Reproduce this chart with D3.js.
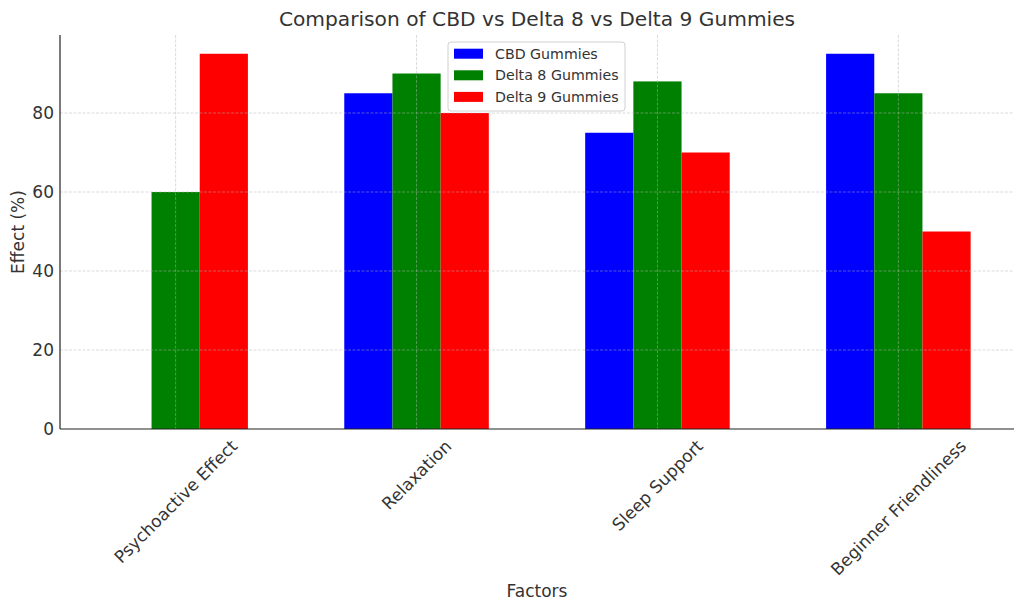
<!DOCTYPE html>
<html><head><meta charset="utf-8">
<script src="https://cdn.jsdelivr.net/npm/d3@7"></script>
<style>body{margin:0;background:#fff}text{font-family:"DejaVu Sans",sans-serif;fill:#333}</style>
</head><body>
<svg id="c" width="1024" height="611"></svg>
<script>
const categories = ["Psychoactive Effect","Relaxation","Sleep Support","Beginner Friendliness"];
const seriesNames = ["CBD Gummies","Delta 8 Gummies","Delta 9 Gummies"];
const cbdValues = [0, 85, 75, 95];
const delta8Values = [60, 90, 88, 85];
const delta9Values = [95, 80, 70, 50];
const yTicks = [0, 20, 40, 60, 80];
const colors = ["#0000ff","#008000","#ff0000"];
const series = [cbdValues, delta8Values, delta9Values];

const svg = d3.select("#c");
const L = 60, R = 1014, T = 35, B = 429;
const barW = 0.2;
const FS = 17;
const x = d3.scaleLinear().domain([-0.48, 3.48]).range([L, R]);
const y = d3.scaleLinear().domain([0, 99.75]).range([B, T]);

// bars
series.forEach((vals, s) => {
  svg.append("g").selectAll("rect").data(vals).join("rect")
    .attr("x", (d, i) => x(i + (s - 1) * barW - barW / 2))
    .attr("width", x(barW) - x(0))
    .attr("y", d => y(d))
    .attr("height", d => y(0) - y(d))
    .attr("fill", colors[s]);
});

// grid
const grid = svg.append("g").attr("stroke", "#b0b0b0").attr("stroke-opacity", 0.6)
  .attr("stroke-width", 0.8).attr("stroke-dasharray", "3,1.5");
yTicks.filter(t => t > 0).forEach(t => grid.append("line").attr("x1", L).attr("x2", R).attr("y1", y(t)).attr("y2", y(t)));
categories.forEach((c, i) => grid.append("line").attr("x1", x(i)).attr("x2", x(i)).attr("y1", T).attr("y2", B));

// axes via d3
const yAxis = svg.append("g").attr("transform", `translate(${L},0)`)
  .call(d3.axisLeft(y).tickValues(yTicks).tickSize(0).tickPadding(6));
yAxis.select(".domain").remove();
yAxis.selectAll("text").attr("font-size", FS).attr("fill", "#333").attr("font-family", "DejaVu Sans");

svg.append("line").attr("x1", L).attr("x2", L).attr("y1", T).attr("y2", B).attr("stroke", "#222").attr("stroke-width", 1.2);
svg.append("line").attr("x1", L).attr("x2", R).attr("y1", B).attr("y2", B).attr("stroke", "#222").attr("stroke-width", 1.2);

// x tick labels rotated 45
const xl = svg.append("g");
categories.forEach((c, i) => {
  const t = xl.append("text").text(c).attr("font-size", FS).attr("text-anchor", "middle")
    .attr("dominant-baseline", "central");
  const len = t.node().getComputedTextLength();
  const h = FS * 1.17;
  const cy = 436 + (len + h) / (2 * Math.SQRT2);
  t.attr("transform", `translate(${x(i)},${cy}) rotate(-45)`);
});

// labels
svg.append("text").text("Comparison of CBD vs Delta 8 vs Delta 9 Gummies").attr("x", (L + R) / 2).attr("y", 26)
  .attr("text-anchor", "middle").attr("font-size", 20.2);
svg.append("text").text("Factors").attr("x", (L + R) / 2).attr("y", 597).attr("text-anchor", "middle").attr("font-size", FS);
svg.append("text").text("Effect (%)").attr("transform", "translate(18,232) rotate(-90)")
  .attr("text-anchor", "middle").attr("dominant-baseline", "central").attr("font-size", FS);

// legend
const lg = svg.append("g");
lg.append("rect").attr("x", 448).attr("y", 42).attr("width", 177).attr("height", 69).attr("rx", 3)
  .attr("fill", "#fff").attr("fill-opacity", 0.8).attr("stroke", "#d0d0d0");
seriesNames.forEach((n, s) => {
  const cy = 53.7 + s * 21.6;
  lg.append("rect").attr("x", 454).attr("y", cy - 5).attr("width", 29).attr("height", 10).attr("fill", colors[s]);
  lg.append("text").text(n).attr("x", 495).attr("y", cy).attr("dominant-baseline", "central").attr("font-size", 14.2);
});
</script>
</body></html>
